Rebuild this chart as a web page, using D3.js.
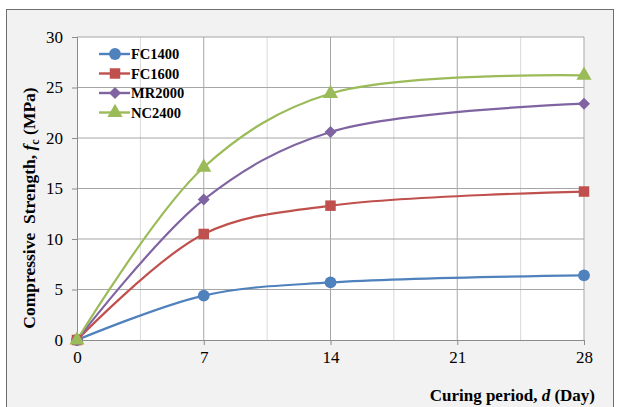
<!DOCTYPE html>
<html><head><meta charset="utf-8">
<script src="https://cdn.jsdelivr.net/npm/d3@7"></script>
<style>body{margin:0;background:#fff}</style>
</head><body>
<svg id="c" width="617" height="407"></svg>
<script>
const days = [0, 7, 14, 28];
const seriesNames = ["FC1400", "FC1600", "MR2000", "NC2400"];
const fc1400 = [0, 4.4, 5.7, 6.4];
const fc1600 = [0, 10.5, 13.3, 14.7];
const mr2000 = [0, 13.9, 20.6, 23.4];
const nc2400 = [0, 17.1, 24.4, 26.2];
const xTicks = [0, 7, 14, 21, 28];
const yTicks = [0, 5, 10, 15, 20, 25, 30];
const colors = ["#4F81BD", "#C0504D", "#8064A2", "#9BBB59"];
const symbols = [d3.symbolCircle, d3.symbolSquare, d3.symbolSquare, d3.symbolTriangle];
const symSizes = [110, 110, 72, 100];
const symRot = [0, 0, 45, 0];
const serif = "'Liberation Serif', 'Times New Roman', serif";

const svg = d3.select("#c");
svg.append("rect").attr("x", 6.5).attr("y", 9.5).attr("width", 607).attr("height", 405)
  .attr("fill", "#f2f2f2").attr("stroke", "#6e6e6e").attr("stroke-width", 1);

const L = 77, R = 584, T = 37, B = 340;
const x = d3.scaleLinear().domain([0, 28]).range([L, R]);
const y = d3.scaleLinear().domain([0, 30]).range([B, T]);

svg.append("rect").attr("x", L).attr("y", T).attr("width", R - L).attr("height", B - T).attr("fill", "#fff");

const minorX = d3.range(3.5, 28, 7);
svg.append("g").selectAll("line").data(minorX).join("line")
  .attr("x1", d => x(d)).attr("x2", d => x(d)).attr("y1", T).attr("y2", B)
  .attr("stroke", "#d9d9d9").attr("stroke-width", 1);
svg.append("g").selectAll("line").data(xTicks.slice(1)).join("line")
  .attr("x1", d => x(d)).attr("x2", d => x(d)).attr("y1", T).attr("y2", B)
  .attr("stroke", "#a6a6a6").attr("stroke-width", 1);
svg.append("g").selectAll("line").data(yTicks.slice(1)).join("line")
  .attr("x1", L).attr("x2", R).attr("y1", d => y(d)).attr("y2", d => y(d))
  .attr("stroke", "#a6a6a6").attr("stroke-width", 1);

const yAxis = svg.append("g").attr("transform", `translate(${L},0)`)
  .call(d3.axisLeft(y).tickValues(yTicks).tickSize(5).tickPadding(9));
const xAxis = svg.append("g").attr("transform", `translate(0,${B})`)
  .call(d3.axisBottom(x).tickValues(xTicks).tickSize(5).tickPadding(6));
[yAxis, xAxis].forEach(a => {
  a.selectAll("path").attr("stroke", "#8c8c8c");
  a.selectAll("line").attr("stroke", "#8c8c8c");
  a.selectAll("text").attr("font-family", serif).attr("font-size", 17).attr("fill", "#000");
});

const data = [fc1400, fc1600, mr2000, nc2400];
const line = d3.line().x((d, i) => x(days[i])).y(d => y(d)).curve(d3.curveCatmullRom.alpha(0.5));
data.forEach((vals, k) => {
  svg.append("path").datum(vals).attr("d", line).attr("fill", "none")
    .attr("stroke", colors[k]).attr("stroke-width", 2.2);
});
data.forEach((vals, k) => {
  svg.append("g").selectAll("path").data(vals).join("path")
    .attr("transform", (d, i) => `translate(${x(days[i])},${y(d)}) rotate(${symRot[k]})`)
    .attr("d", d3.symbol().type(symbols[k]).size(symSizes[k]))
    .attr("fill", colors[k]);
});

const lg = svg.append("g");
seriesNames.forEach((n, k) => {
  const yy = 54 + k * 19.5;
  lg.append("line").attr("x1", 99).attr("x2", 130).attr("y1", yy).attr("y2", yy)
    .attr("stroke", colors[k]).attr("stroke-width", 2.4);
  lg.append("path").attr("transform", `translate(115,${yy}) rotate(${symRot[k]})`)
    .attr("d", d3.symbol().type(symbols[k]).size(symSizes[k])).attr("fill", colors[k]);
  lg.append("text").attr("x", 131).attr("y", yy + 5).text(n)
    .attr("font-family", serif).attr("font-weight", "bold").attr("font-size", 14.5).attr("fill", "#000");
});

const xt = svg.append("text").attr("x", 595).attr("y", 401).attr("text-anchor", "end")
  .attr("font-family", serif).attr("font-weight", "bold").attr("font-size", 17).attr("fill", "#000");
xt.append("tspan").text("Curing period, ");
xt.append("tspan").attr("font-style", "italic").text("d");
xt.append("tspan").text(" (Day)");

const yt = svg.append("text").attr("transform", "translate(35,208) rotate(-90)").attr("text-anchor", "middle")
  .attr("font-family", serif).attr("font-weight", "bold").attr("font-size", 17.5).attr("fill", "#000")
  .style("white-space", "pre");
yt.append("tspan").text("Compressive  Strength, ");
yt.append("tspan").attr("font-style", "italic").text("f");
yt.append("tspan").attr("font-size", 12).attr("dy", 4).text("c");
yt.append("tspan").attr("dy", -4).text(" (MPa)");
</script>
</body></html>
